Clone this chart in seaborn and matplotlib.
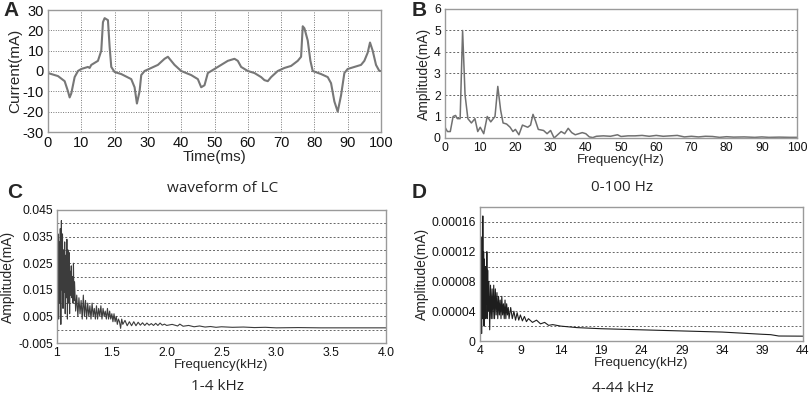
import numpy as np
import pandas as pd
import matplotlib
matplotlib.use("Agg")
import matplotlib.pyplot as plt
import seaborn as sns

# ---- data ----
# A: waveform of LC
t_ms = [0, 3, 5, 6, 6.5, 7, 8, 9, 10, 12, 12.5, 13, 15, 16, 16.5, 17, 18, 18.5, 19, 20,
        22, 25, 26, 26.7, 27.5, 28, 29, 31, 33, 35, 36, 37, 38, 40, 43, 45, 46, 47, 48,
        50, 52, 54, 56, 57, 58, 60, 62, 64, 65, 66, 67, 69, 71, 73, 75, 76, 76.5, 77, 78,
        78.8, 79.5, 82, 84, 85, 86, 87, 88, 89, 90, 92, 94, 95, 96, 96.7, 97.5, 98.5, 99.5, 100]
current_ma = [-1, -2.5, -5, -10, -13, -11, -3, 0, 1, 2, 1.5, 3, 5, 10, 24, 26, 25, 12, 2, -0.5,
              -1.5, -4, -8, -16, -10, -2, 0, 1.5, 3, 6, 7, 5, 3, 0, -2, -4, -8, -7, -1,
              1, 3, 5, 6, 5, 2, 0, -1, -3, -4.5, -5, -3, 0, 1.5, 2.5, 5, 7, 22, 21, 15,
              5, 0, -1.5, -3, -6, -15, -20, -12, -1, 1, 2, 3, 5, 9, 14, 10, 3, 0, 0]

# B: 0-100 Hz spectrum
freq_hz = [0, 0.7, 1.5, 2.3, 3, 3.5, 4.3, 5, 5.7, 6.5, 7.5, 8.5, 9.3, 10, 11, 12, 13, 14.2,
           15, 15.8, 16.5, 17.5, 18.5, 19.3, 20, 21, 22, 23.5, 24.3, 25, 25.7, 26.5, 28, 29,
           30, 31, 32, 33, 34, 35, 36, 37, 38, 39, 40, 41, 42, 43, 45, 47, 49, 50, 52, 54,
           56, 58, 60, 62, 64, 66, 68, 70, 72, 74, 76, 78, 80, 82, 85, 88, 90, 92, 95, 98, 100]
amp_hz = [0.5, 0.3, 0.3, 1.0, 1.05, 0.9, 0.9, 5.0, 2.0, 0.9, 0.7, 0.9, 0.3, 0.5, 0.2, 1.0, 0.75, 1.0,
          2.4, 1.3, 0.7, 0.65, 0.5, 0.3, 0.4, 0.15, 0.6, 0.5, 0.6, 1.1, 0.8, 0.4, 0.35, 0.2,
          0.35, 0.0, 0.15, 0.3, 0.2, 0.45, 0.25, 0.15, 0.2, 0.25, 0.2, 0.05, 0.02, 0.08, 0.1, 0.08, 0.15, 0.07, 0.1, 0.1,
          0.12, 0.08, 0.12, 0.08, 0.1, 0.12, 0.05, 0.08, 0.05, 0.08, 0.07, 0.03, 0.06, 0.04, 0.05, 0.03, 0.05, 0.03, 0.04, 0.03, 0.03]

# C: 1-4 kHz spectrum
freq_c = [1.000, 1.005, 1.010, 1.015, 1.020, 1.025, 1.030, 1.035, 1.040, 1.045, 1.050, 1.055,
          1.060, 1.065, 1.070, 1.075, 1.080, 1.085, 1.090, 1.095, 1.100, 1.105, 1.110, 1.115,
          1.120, 1.125, 1.130, 1.135, 1.140, 1.145, 1.150, 1.155, 1.160, 1.170, 1.180, 1.190,
          1.200, 1.210, 1.220, 1.230, 1.240, 1.250, 1.260, 1.270, 1.280, 1.290, 1.300, 1.310,
          1.320, 1.330, 1.340, 1.350, 1.360, 1.370, 1.380, 1.390, 1.400, 1.410, 1.420, 1.430,
          1.440, 1.450, 1.460, 1.470, 1.480, 1.490, 1.500, 1.510, 1.520, 1.530, 1.540, 1.550,
          1.560, 1.570, 1.580, 1.590, 1.600, 1.620, 1.640, 1.660, 1.680, 1.700, 1.720, 1.740,
          1.760, 1.780, 1.800, 1.820, 1.840, 1.860, 1.880, 1.900, 1.920, 1.940, 1.960, 1.980,
          2.000, 2.050, 2.100, 2.120, 2.150, 2.200, 2.250, 2.300, 2.350, 2.400, 2.450, 2.500,
          2.600, 2.700, 2.800, 2.900, 3.000, 3.200, 3.400, 3.600, 3.800, 4.000]
amp_c = [0.030, 0.012, 0.036, 0.004, 0.033, 0.010, 0.038, 0.002, 0.041, 0.015, 0.036, 0.008,
         0.030, 0.014, 0.033, 0.006, 0.028, 0.012, 0.034, 0.004, 0.030, 0.010, 0.029, 0.006,
         0.022, 0.013, 0.024, 0.012, 0.020, 0.010, 0.025, 0.011, 0.018, 0.007, 0.013, 0.005,
         0.012, 0.006, 0.011, 0.004, 0.013, 0.005, 0.011, 0.004, 0.010, 0.005, 0.009, 0.004,
         0.010, 0.005, 0.008, 0.004, 0.009, 0.004, 0.008, 0.005, 0.009, 0.004, 0.008, 0.005,
         0.007, 0.004, 0.008, 0.004, 0.007, 0.004, 0.006, 0.003, 0.006, 0.003, 0.005, 0.002,
         0.004, 0.003, 0.0005, 0.004, 0.002, 0.0035, 0.0015, 0.003, 0.0015, 0.003, 0.0015, 0.0028,
         0.0017, 0.0026, 0.0016, 0.0025, 0.0017, 0.0023, 0.0016, 0.0024, 0.0016, 0.0025, 0.0017, 0.0021,
         0.0016, 0.0020, 0.0014, 0.0021, 0.0013, 0.0016, 0.0011, 0.0014, 0.0010, 0.0012, 0.0009, 0.0011,
         0.0009, 0.0010, 0.0008, 0.0009, 0.0007, 0.0008, 0.0007, 0.0007, 0.0007, 0.0007]

# D: 4-44 kHz spectrum
freq_d = [4.00, 4.05, 4.10, 4.15, 4.20, 4.25, 4.30, 4.35, 4.40, 4.45, 4.50, 4.55, 4.60, 4.65,
          4.70, 4.75, 4.80, 4.85, 4.90, 4.95, 5.00, 5.10, 5.20, 5.30, 5.40, 5.50, 5.60, 5.70,
          5.80, 5.90, 6.00, 6.10, 6.20, 6.30, 6.40, 6.50, 6.60, 6.70, 6.80, 6.90, 7.00, 7.10,
          7.20, 7.30, 7.40, 7.50, 7.60, 7.80, 8.00, 8.20, 8.40, 8.60, 8.80, 9.00, 9.25, 9.50,
          9.75, 10.0, 10.5, 11.0, 11.5, 12.0, 12.5, 13.0, 14.0, 16.0, 19.0, 24.0, 29.0, 34.0,
          39.0, 40.0, 41.0, 44.0]
amp_d = [0.00002, 0.00015, 0.00004, 0.00013, 0.00001, 0.00014, 0.00003, 0.000168, 0.00005, 0.00012,
         0.00002, 0.00011, 0.00004, 0.00010, 0.00003, 0.00009, 0.00005, 0.00012, 0.00003, 0.000095,
         0.00004, 0.00008, 0.000015, 0.000075, 0.00003, 0.00007, 0.00003, 0.000075, 0.00003, 0.00007,
         0.000035, 0.000065, 0.00003, 0.00006, 0.000035, 0.000055, 0.00003, 0.00006, 0.000035, 0.00005,
         0.00003, 0.000055, 0.00003, 0.00005, 0.000035, 0.000045, 0.00003, 0.000045, 0.00003, 0.00004,
         0.000028, 0.000038, 0.000028, 0.000035, 0.000027, 0.000033, 0.000026, 0.00003, 0.000025, 0.000028,
         0.000023, 0.000025, 0.000021, 0.000022, 0.00002, 0.000018, 0.0000165, 0.000015, 0.0000135, 0.000012,
         0.000009, 0.0000085, 0.0000067, 0.0000065]

sns.set_style("white")
plt.rcParams['font.family'] = ['Liberation Sans', 'DejaVu Sans']
plt.rcParams['axes.unicode_minus'] = False

fig = plt.figure(figsize=(8.09, 3.95), dpi=100)
W, H = 809, 395


def box(l, t, r, b):
    return [l / W, (H - b) / H, (r - l) / W, (b - t) / H]


axA = fig.add_axes(box(48, 10, 381, 132))
axB = fig.add_axes(box(445, 9, 797, 138))
axC = fig.add_axes(box(57, 210, 386, 343))
axD = fig.add_axes(box(480, 207, 803, 341))

sns.lineplot(x=t_ms, y=current_ma, ax=axA, color="#777777", lw=1.5, sort=False, estimator=None)
sns.lineplot(x=freq_hz, y=amp_hz, ax=axB, color="#707070", lw=1.1, sort=False, estimator=None)
sns.lineplot(x=freq_c, y=amp_c, ax=axC, color="#3c3c3c", lw=0.8, sort=False, estimator=None)
sns.lineplot(x=freq_d, y=amp_d, ax=axD, color="#1e1e1e", lw=0.8, sort=False, estimator=None)

# panel A
axA.set_xlim(0, 100)
axA.set_ylim(-30, 30)
axA.set_xticks(range(0, 101, 10))
axA.set_yticks(range(-30, 31, 10))
axA.grid(True, which="major", axis="both", ls=(0, (1, 1.5)), color="#777777", lw=0.7)
axA.tick_params(labelsize=10.5, length=0, pad=3)
axA.set_xlabel("Time(ms)", fontsize=11, labelpad=0)
axA.set_ylabel("Current(mA)", fontsize=11, labelpad=0)

# panel B
axB.set_xlim(0, 100)
axB.set_ylim(0, 6)
axB.set_xticks(range(0, 101, 10))
axB.set_yticks(range(0, 7))
axB.grid(True, axis="y", ls=(0, (2, 2)), color="#666666", lw=0.7)
axB.tick_params(labelsize=8.8, length=0, pad=3)
axB.set_xlabel("Frequency(Hz)", fontsize=9.5, labelpad=0)
axB.set_ylabel("Amplitude(mA)", fontsize=10, labelpad=2)

# panel C
axC.set_xlim(1, 4)
axC.set_ylim(-0.005, 0.045)
axC.set_xticks([1, 1.5, 2, 2.5, 3, 3.5, 4])
axC.set_xticklabels(["1", "1.5", "2.0", "2.5", "3.0", "3.5", "4.0"])
axC.set_yticks([-0.005, 0.005, 0.015, 0.025, 0.035, 0.045])
axC.set_yticklabels(["-0.005", "0.005", "0.015", "0.025", "0.035", "0.045"])
for g in [0, 0.005, 0.01, 0.015, 0.02, 0.025, 0.03, 0.035, 0.04]:
    axC.axhline(g, ls=(0, (2, 2)), color="#666666", lw=0.7, zorder=0)
axC.tick_params(labelsize=8.8, length=0, pad=3)
axC.set_xlabel("Frequency(kHz)", fontsize=9.5, labelpad=0)
axC.set_ylabel("Amplitude(mA)", fontsize=10, labelpad=2)

# panel D
axD.set_xlim(4, 44)
axD.set_ylim(0, 0.00018)
axD.set_xticks(range(4, 45, 5))
axD.set_yticks([0, 0.00004, 0.00008, 0.00012, 0.00016])
axD.set_yticklabels(["0", "0.00004", "0.00008", "0.00012", "0.00016"])
for g in [0.00002, 0.00004, 0.00006, 0.00008, 0.0001, 0.00012, 0.00014, 0.00016]:
    axD.axhline(g, ls=(0, (2, 2)), color="#666666", lw=0.7, zorder=0)
axD.tick_params(labelsize=8.8, length=0, pad=3)
axD.set_xlabel("Frequency(kHz)", fontsize=9.5, labelpad=0)
axD.set_ylabel("Amplitude(mA)", fontsize=10, labelpad=2)

for ax in (axA, axB, axC, axD):
    for s in ax.spines.values():
        s.set_color("#9a9a9a")
        s.set_linewidth(1.0)
    ax.tick_params(colors="#111111")

# panel letters and captions
for txt, x, y in [("A", 3, 11), ("B", 412, 11), ("C", 7, 193), ("D", 412, 193)]:
    fig.text(x / W, 1 - y / H, txt, fontsize=15, fontweight="bold", ha="left", va="center")
for txt, x, y in [("waveform of LC", 223, 188), ("0-100 Hz", 622, 187),
                  ("1-4 kHz", 218, 387), ("4-44 kHz", 623, 388)]:
    fig.text(x / W, 1 - y / H, txt, fontsize=11, family=["Open Sans", "DejaVu Sans"],
             ha="center", va="center")

fig.savefig("out.png", dpi=100)
